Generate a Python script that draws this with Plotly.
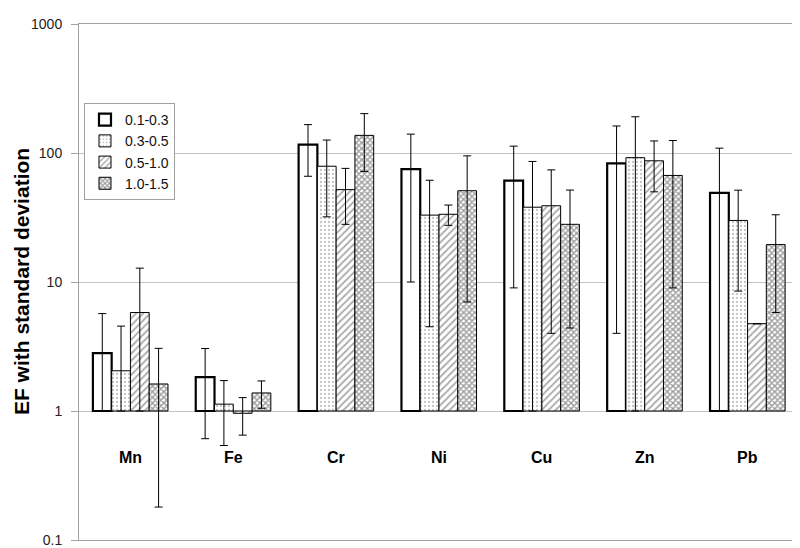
import plotly.graph_objects as go

categories = ["Mn", "Fe", "Cr", "Ni", "Cu", "Zn", "Pb"]
series_names = ["0.1-0.3", "0.3-0.5", "0.5-1.0", "1.0-1.5"]

ef_01_03 = [2.81, 1.83, 116, 75, 61, 83, 49]
ef_03_05 = [2.05, 1.13, 79, 33, 38, 92, 30]
ef_05_10 = [5.8, 0.96, 52, 33.5, 39, 87, 4.75]
ef_10_15 = [1.62, 1.38, 137, 51, 28, 67, 19.5]

sd_01_03 = [2.88, 1.22, 50, 65, 52, 79, 60]
sd_03_05 = [2.5, 0.59, 47, 28.5, 48, 99, 21.5]
sd_05_10 = [7.0, 0.31, 24, 6, 35, 37, 0]
sd_10_15 = [1.44, 0.33, 65, 44, 23.6, 58, 13.7]

tick_vals = [0.1, 1, 10, 100, 1000]
tick_text = ["0.1", "1", "10", "100", "1000"]

values = [ef_01_03, ef_03_05, ef_05_10, ef_10_15]
sds = [sd_01_03, sd_03_05, sd_05_10, sd_10_15]

styles = [
    dict(shape="", fg="#000000", sol=0.2, size=8, lw=2.2),
    dict(shape=".", fg="#8a8a8a", sol=0.25, size=4, lw=1),
    dict(shape="/", fg="#555555", sol=0.35, size=5, lw=1),
    dict(shape="x", fg="#3a3a3a", sol=0.6, size=4, lw=1),
]

fig = go.Figure()
for name, vals, sd, st in zip(series_names, values, sds, styles):
    minus = [s if v - s > 0 else v - 1 for v, s in zip(vals, sd)]
    fig.add_trace(go.Bar(
        name=name,
        x=categories,
        y=[v - 1 for v in vals],
        base=[1] * len(vals),
        marker=dict(
            color="white",
            line=dict(color="black", width=st["lw"]),
            pattern=dict(shape=st["shape"], fgcolor=st["fg"], bgcolor="white",
                         solidity=st["sol"], size=st["size"]),
        ),
        error_y=dict(type="data", array=sd, arrayminus=minus, symmetric=False,
                     color="black", thickness=1, width=4),
    ))

# category labels placed just below the y=1 line
for c in categories:
    fig.add_annotation(x=c, y=-0.36, xref="x", yref="y", text="<b>%s</b>" % c,
                       showarrow=False, font=dict(family="Liberation Sans, Arial", size=16, color="black"))

fig.add_annotation(xref="paper", yref="paper", x=-58 / 721, y=0.5,
                   text="<b>EF with standard deviation</b>", textangle=-90,
                   showarrow=False, xanchor="center", yanchor="middle",
                   font=dict(family="Liberation Sans, Arial", size=21, color="black"))

fig.update_layout(
    width=800, height=548,
    margin=dict(l=71, r=8, t=15, b=11),
    paper_bgcolor="white", plot_bgcolor="white",
    barmode="group", bargap=0.27, bargroupgap=0,
    font=dict(family="Liberation Sans, Arial", size=13, color="#222222"),
    showlegend=True,
    legend=dict(x=5 / 721, y=1 - 80 / 522, xanchor="left", yanchor="top",
                bgcolor="white", bordercolor="#a0a0a0", borderwidth=1,
                itemwidth=30, tracegroupgap=0,
                font=dict(size=14, color="#111111"), traceorder="normal"),
    xaxis=dict(showticklabels=False, ticks="", showgrid=False, showline=True,
               mirror=True, linecolor="#a0a0a0", linewidth=1, range=[-0.5, 6.5]),
    yaxis=dict(type="log", range=[-1, 3], tickvals=tick_vals, ticktext=tick_text,
               showgrid=True, gridcolor="#c4c4c4", gridwidth=1,
               showline=True, mirror=True, linecolor="#a0a0a0", linewidth=1,
               ticks="outside", ticklen=7, tickcolor="#a0a0a0",
               ticklabelstandoff=6,
               tickfont=dict(size=14, color="#222222")),
)

fig.write_html("out.html")
